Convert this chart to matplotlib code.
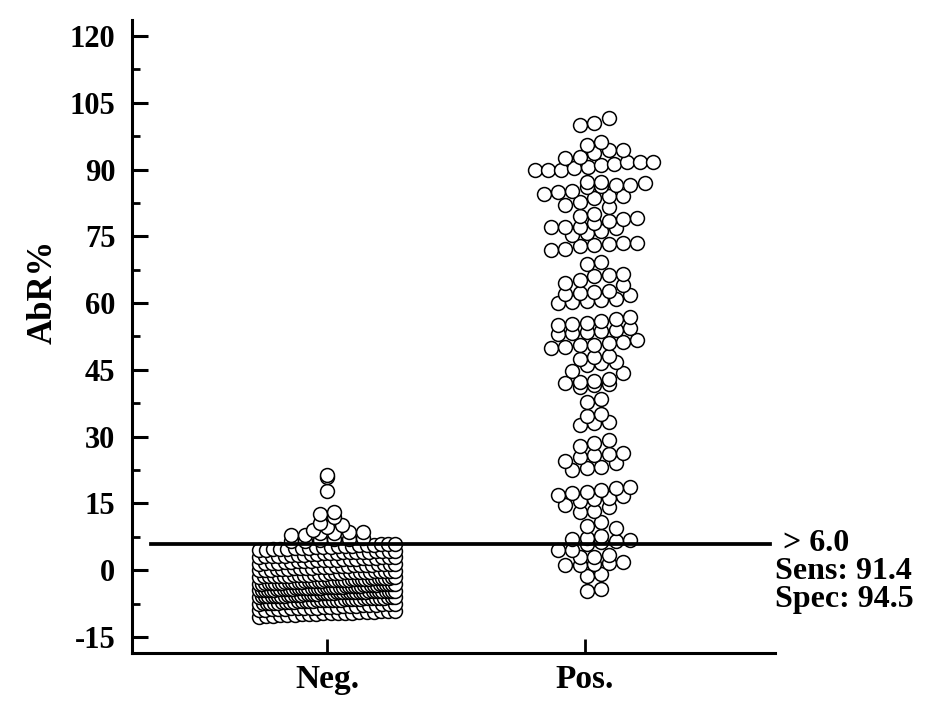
import numpy as np
import matplotlib
matplotlib.use("Agg")
import matplotlib.pyplot as plt
from matplotlib.ticker import MultipleLocator

plt.rcParams['font.family'] = ['Liberation Serif', 'DejaVu Serif']
plt.rcParams['font.weight'] = 'bold'
plt.rcParams['axes.unicode_minus'] = False

# AbR% values read (estimated) off the dot plot
neg_vals = [
    -10.4, -10.3, -10.3, -10.1, -10.0, -10.0, -9.9, -9.9, -9.8, -9.7, -9.7, -9.6, -9.5, -9.5, -9.4, -9.3, -9.3, -9.2, -9.1, -9.1,
    -9.0, -8.9, -8.8, -8.8, -8.7, -8.6, -8.6, -8.5, -8.4, -8.4, -8.3, -8.2, -8.2, -8.1, -8.0, -8.0, -7.9, -7.8, -7.8, -7.7, -7.6, -7.6,
    -7.5, -7.4, -7.4, -7.3, -7.3, -7.2, -7.2, -7.1, -7.1, -7.0, -7.0, -6.9, -6.9, -6.8, -6.8, -6.7, -6.7, -6.6, -6.6,
    -6.5, -6.5, -6.4, -6.4, -6.3, -6.3, -6.2, -6.2, -6.1, -6.1, -6.1, -7.3, -7.0, -6.8, -6.5, -6.3, -6.2,
    -6.0, -5.9, -5.9, -5.8, -5.8, -5.7, -5.7, -5.6, -5.6, -5.5, -5.5, -5.4, -5.4, -5.3, -5.3, -5.2, -5.2, -5.1, -5.1, -5.0, -5.0,
    -4.9, -4.9, -4.9, -4.8, -4.8, -4.8, -4.7, -4.7, -4.7, -4.6, -4.6, -4.6, -4.6,
    -5.9, -5.7, -5.5, -5.4, -5.2, -5.0, -4.9, -4.7, -4.6,
    -4.5, -4.5, -4.4, -4.4, -4.4, -4.3, -4.3, -4.3, -4.2, -4.2, -4.1, -4.1, -4.1, -4.0, -4.0, -4.0, -3.9, -3.9, -3.8, -3.8, -3.8,
    -3.7, -3.7, -3.7, -3.6, -3.6, -3.5, -3.5, -3.5, -3.4, -3.4, -3.3, -3.3, -3.2, -3.2, -3.1, -3.1, -3.1,
    -4.4, -4.2, -4.0, -3.8, -3.6, -3.4, -3.2,
    -3.0, -3.0, -2.9, -2.9, -2.9, -2.8, -2.8, -2.7, -2.7, -2.7, -2.6, -2.6, -2.5, -2.5, -2.5, -2.4, -2.4, -2.3, -2.3, -2.3,
    -2.2, -2.2, -2.1, -2.1, -2.0, -2.0, -2.0, -1.9, -1.9, -1.8, -1.8, -1.7, -1.7, -1.7, -1.6, -1.6,
    -2.9, -2.6, -2.4, -2.2, -2.0, -1.8,
    -1.5, -1.4, -1.4, -1.3, -1.3, -1.2, -1.2, -1.1, -1.1, -1.0, -1.0, -0.9, -0.8, -0.8, -0.7, -0.7, -0.6, -0.5, -0.5, -0.4, -0.4,
    -0.3, -0.3, -0.2, -0.2, -0.1, -0.1, -0.1,
    0.0, 0.1, 0.1, 0.2, 0.3, 0.3, 0.4, 0.5, 0.5, 0.6, 0.7, 0.7, 0.8, 0.9, 0.9, 1.0, 1.1, 1.1, 1.2, 1.2, 1.3, 1.4, 1.4, 1.4,
    1.5, 1.6, 1.7, 1.7, 1.8, 1.9, 2.0, 2.0, 2.1, 2.2, 2.3, 2.3, 2.4, 2.5, 2.5, 2.6, 2.7, 2.7, 2.8, 2.9, 2.9, 2.9,
    3.0, 3.1, 3.2, 3.2, 3.3, 3.4, 3.5, 3.5, 3.6, 3.7, 3.8, 3.8, 3.9, 4.0, 4.0, 4.1, 4.2, 4.2, 4.3, 4.4, 4.4, 4.4,
    4.5, 4.6, 4.7, 4.8, 4.8, 4.9, 5.0, 5.1, 5.2, 5.2, 5.3, 5.4, 5.5, 5.5, 5.6, 5.7, 5.7, 5.8, 5.9, 5.9,
    6.5, 6.6, 6.8, 7.0, 7.1, 7.3, 7.8, 8.0, 8.3, 8.4, 8.5, 8.6,
    9.0, 9.6, 10.2, 10.6, 11.9, 12.6, 13.0, 17.8, 20.9, 21.3,
]

pos_vals = [
    101.6, 100.4, 100.0,
    96.2, 95.5, 94.4, 94.4, 93.7, 92.8, 92.6, 91.7,
    89.8, 90.0, 90.0, 90.3, 90.6, 91.0, 91.3, 91.6, 91.6,
    86.3, 86.5, 86.6, 86.9, 87.2, 87.3, 84.0, 84.0, 84.5, 85.2, 85.0, 86.0,
    81.6, 82.0, 82.7, 83.6, 77.0, 77.2, 78.0, 78.4, 78.8, 79.2, 79.5, 80.0,
    75.8, 76.2, 76.8, 77.0, 75.3,
    72.0, 72.2, 72.8, 73.0, 73.2, 73.4, 73.6, 68.8, 69.2, 66.0, 66.3, 66.5,
    64.0, 64.5, 65.2,
    60.0, 60.2, 60.4, 60.6, 61.0, 61.8, 62.0, 62.2, 62.4, 62.8,
    55.0, 55.3, 55.6, 56.0, 56.4, 56.8, 53.0, 53.2, 53.5, 53.8, 54.0, 54.3,
    50.0, 50.2, 50.5, 50.7, 51.0, 51.3, 51.6, 47.4, 47.8, 48.2, 46.0, 46.5, 46.8,
    44.2, 44.8, 41.2, 41.5, 41.8, 42.0, 42.3, 42.6, 43.0, 37.8, 38.4,
    34.6, 35.0, 32.6, 33.0, 33.4, 27.8, 28.6, 29.2,
    25.4, 25.8, 26.0, 26.4, 22.6, 23.0, 23.2, 24.0, 24.6,
    18.0, 18.4, 18.8, 17.0, 17.4, 17.6, 15.6, 16.0, 16.2, 16.6, 14.2, 14.6, 13.0, 13.4,
    9.4, 10.0, 10.8, 6.0, 6.3, 6.6, 6.8, 7.0, 7.2, 7.6,
    4.5, 4.5, 3.4, 3.0, 3.0, 1.1, 1.1, 1.3, 1.6, 1.8,
    -1.3, -0.9, -4.7, -4.2,
]

groups = ['Neg.', 'Pos.']
cutoff = 6.0
stats_text = ' > 6.0\nSens: 91.4\nSpec: 94.5'


def bin_layout(values, center, bin_w, step, half_w, start):
    vals = np.asarray(values, dtype=float)
    bins = np.floor((vals - start) / bin_w)
    x = np.zeros(len(vals))
    order = []
    for b in np.unique(bins):
        idx = np.where(bins == b)[0]
        idx = idx[np.argsort(vals[idx], kind='stable')]
        n = len(idx)
        dx = step if n < 2 else min(step, 2 * half_w / (n - 1))
        x[idx] = center + (np.arange(n) - (n - 1) / 2) * dx
        order.extend(idx)
    order = np.array(order)
    return x[order], vals[order]


fig = plt.figure(figsize=(9.45, 7.03), dpi=100)
ax = fig.add_axes([0.1397, 0.0711, 0.6804, 0.9005])

nx, ny = bin_layout(neg_vals, 1, 1.5, 0.056, 0.265, -10.5)
px, py = bin_layout(pos_vals, 2.035, 2.5, 0.056, 0.23, -5.5)

for xx, yy in [(nx, ny), (px, py)]:
    ax.scatter(xx, yy, s=100, facecolor='white', edgecolor='black',
               linewidth=1.1, zorder=2, clip_on=False)

ax.plot([0.318, 2.717], [cutoff, cutoff], color='black', lw=2.7,
        zorder=3, clip_on=False)

ax.set_xlim(0.244, 2.736)
ax.set_ylim(-18.6, 123.6)
ax.set_xticks([1, 2])
ax.set_xticklabels(groups)
ax.set_yticks(np.arange(-15, 121, 15))
ax.yaxis.set_minor_locator(MultipleLocator(7.5))

for s in ['top', 'right']:
    ax.spines[s].set_visible(False)
for s in ['left', 'bottom']:
    ax.spines[s].set_linewidth(2.2)

ax.tick_params(axis='y', which='major', direction='in', length=11.5, width=2.2,
               labelsize=22, pad=12)
ax.tick_params(axis='y', which='minor', direction='in', length=6, width=2.0)
ax.tick_params(axis='x', which='major', direction='in', length=10, width=2.0,
               labelsize=24, pad=8)
for lab in ax.get_xticklabels() + ax.get_yticklabels():
    lab.set_fontweight('bold')

ax.set_ylabel('AbR%', fontsize=25, fontweight='bold')
ax.yaxis.set_label_coords(-0.113, 0.57)

fig.text(0.8201, 0.1366, stats_text, fontsize=23, fontweight='bold',
         va='baseline', ha='left', linespacing=0.95)

fig.savefig('out.png', dpi=100)
